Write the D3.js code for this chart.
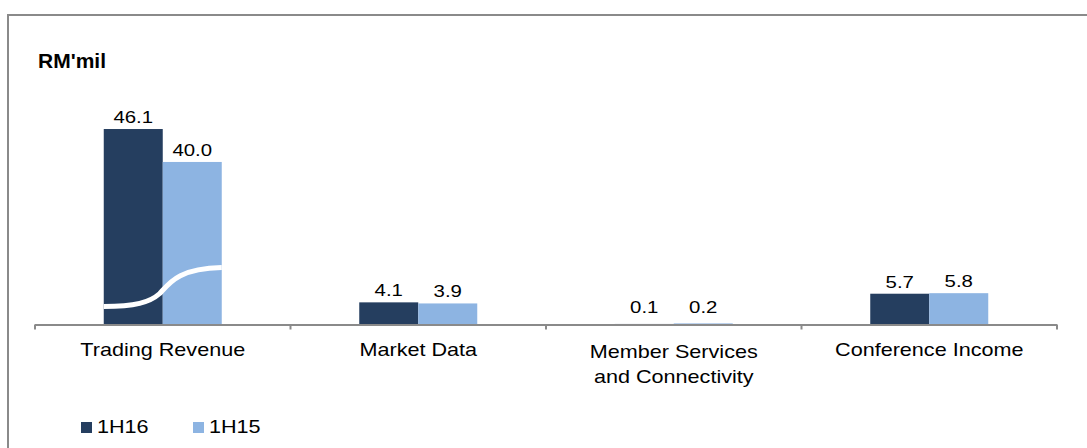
<!DOCTYPE html>
<html>
<meta charset="utf-8">
<style>
    body { margin: 0; background: #fff; }
    text { font-family: "Liberation Sans", Arial, sans-serif; fill: #000; }
</style>
<body>
<script src="https://cdnjs.cloudflare.com/ajax/libs/d3/7.8.5/d3.min.js"></script>
<script>
var categories = ["Trading Revenue", "Market Data", "Member Services\nand Connectivity", "Conference Income"];
var series = ["1H16", "1H15"];
var values1H16 = [46.1, 4.1, 0.1, 5.7];
var values1H15 = [40.0, 3.9, 0.2, 5.8];
var colors = ["#253E5F", "#8DB4E2"];

var W = 1087, H = 448;
var base = 324.5, k = 5.4, cut = 9.9;   // axis break removes ~9.9 units on the big bars
var stretch = 1.2;                       // source picture is stretched sideways

var svg = d3.select("body").append("svg").attr("width", W).attr("height", H);

// frame (top + left only, like the source crop)
svg.append("path").attr("d", "M8," + H + " V15 H" + W)
    .attr("fill", "none").attr("stroke", "#8a8a8a").attr("stroke-width", 2);

var x = d3.scaleBand().domain(categories).range([35, 1057]);
var xs = d3.scaleBand().domain(series).range([-59, 59]);
// broken scale: plain below 12, shifted down by `cut` above 13
var y = d3.scaleLinear().domain([0, 12, 13, 60])
    .range([base, base - 12 * k, base - (13 - cut) * k, base - (60 - cut) * k]);

function stext(g, tx, ty, str, size, anchor, weight) {
    return g.append("text")
        .attr("transform", "translate(" + tx + "," + ty + ") scale(" + stretch + ",1)")
        .attr("text-anchor", anchor || "middle")
        .style("font-size", size + "px")
        .style("font-weight", weight || "normal")
        .text(str);
}

svg.append("text").attr("x", 38).attr("y", 68)
    .style("font-size", "21px").style("font-weight", "bold").text("RM'mil");

var data = [values1H16, values1H15];
series.forEach(function(s, si) {
    categories.forEach(function(c, ci) {
        var v = data[si][ci];
        var bx = x(c) + x.bandwidth() / 2 + xs(s);
        svg.append("rect")
            .attr("x", bx).attr("width", xs.bandwidth())
            .attr("y", y(v)).attr("height", base - y(v))
            .attr("fill", colors[si]);
        var ly = Math.min(y(v), base - 6) - 6;
        stext(svg, bx + xs.bandwidth() / 2, ly, v.toFixed(1), 17);
    });
});

// break mark across the Trading Revenue bars
var b0 = x(categories[0]) + x.bandwidth() / 2 + xs(series[0]);
var b1 = b0 + 2 * xs.bandwidth();
svg.append("path")
    .attr("d", "M" + b0 + "," + (base - 18) +
        " C" + (b0 + 31) + "," + (base - 18) + " " + (b0 + 46) + "," + (base - 22) + " " + (b0 + 56) + "," + (base - 31) +
        " C" + (b0 + 66) + "," + (base - 42) + " " + (b0 + 75) + "," + (base - 56) + " " + b1 + "," + (base - 57))
    .attr("fill", "none").attr("stroke", "#fff").attr("stroke-width", 5);

// x axis
var axis = svg.append("g");
axis.append("line").attr("x1", 35).attr("x2", 1057).attr("y1", base + 0.5).attr("y2", base + 0.5)
    .attr("stroke", "#8a8a8a").attr("stroke-width", 2);
x.domain().concat([null]).forEach(function(c) {
    var tx = c === null ? x.range()[1] : x(c);
    axis.append("line").attr("x1", tx).attr("x2", tx).attr("y1", base).attr("y2", base + 5)
        .attr("stroke", "#8a8a8a").attr("stroke-width", 2);
});
categories.forEach(function(c) {
    var lines = c.split("\n");
    var cx = x(c) + x.bandwidth() / 2;
    lines.forEach(function(l, i) {
        stext(svg, cx, (lines.length > 1 ? 358 : 356) + i * 25, l, 18);
    });
});

// legend
var lg = [{x: 81}, {x: 193}];
series.forEach(function(s, i) {
    svg.append("rect").attr("x", lg[i].x).attr("y", 422).attr("width", 11).attr("height", 11).attr("fill", colors[i]);
    stext(svg, lg[i].x + 16, 433, s, 18, "start");
});
</script>
</body>
</html>
